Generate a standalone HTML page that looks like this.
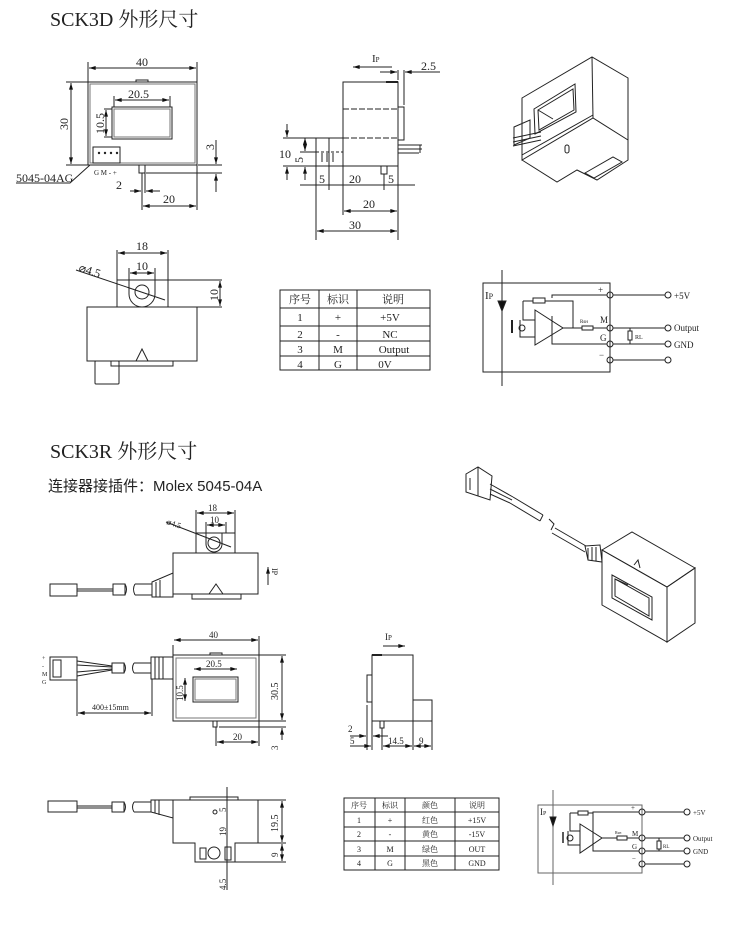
<!DOCTYPE html>
<html><head><meta charset="utf-8"><style>
html,body{margin:0;padding:0;background:#fff;}
svg{display:block;}
text{font-family:"Liberation Serif","Noto Serif CJK SC",serif;fill:#222;}
.s{font-family:"Liberation Sans","Noto Sans CJK SC",sans-serif;}
</style></head><body>
<svg width="750" height="938" viewBox="0 0 750 938" xmlns="http://www.w3.org/2000/svg">
<defs>
<marker id="a" viewBox="0 0 10 6" refX="10" refY="3" markerWidth="8" markerHeight="4" orient="auto-start-reverse"><path d="M0,0L10,3L0,6z" fill="#111"/></marker>
</defs>
<g fill="none" stroke="#222" stroke-width="1">

<!-- ===== Section 1 front view ===== -->
<rect x="88" y="82" width="109" height="83"/>
<rect x="90" y="84" width="105" height="79" stroke="#777"/>
<rect x="136" y="80" width="12" height="2"/>
<rect x="112" y="107" width="60" height="32"/>
<rect x="114" y="109" width="56" height="28" stroke="#777"/>
<rect x="93" y="147" width="27" height="16"/>
<line x1="88" y1="82" x2="88" y2="62"/><line x1="197" y1="82" x2="197" y2="62"/>
<line x1="89" y1="68" x2="196" y2="68" marker-start="url(#a)" marker-end="url(#a)"/>
<line x1="66" y1="82" x2="88" y2="82"/><line x1="66" y1="165" x2="88" y2="165"/>
<line x1="71" y1="83" x2="71" y2="164" marker-start="url(#a)" marker-end="url(#a)"/>
<line x1="114" y1="96" x2="114" y2="107"/><line x1="170" y1="96" x2="170" y2="107"/>
<line x1="115" y1="100" x2="169" y2="100" marker-start="url(#a)" marker-end="url(#a)"/>
<line x1="104" y1="109" x2="112" y2="109"/><line x1="104" y1="137" x2="112" y2="137"/>
<line x1="106" y1="110" x2="106" y2="136" marker-start="url(#a)" marker-end="url(#a)"/>
<rect x="139" y="165" width="6" height="8"/>
<line x1="142" y1="173" x2="142" y2="210"/><line x1="145" y1="173" x2="145" y2="193"/>
<line x1="130" y1="191" x2="141" y2="191" marker-end="url(#a)"/><line x1="160" y1="191" x2="146" y2="191" marker-end="url(#a)"/>
<line x1="197" y1="165" x2="197" y2="210"/>
<line x1="143" y1="206" x2="196" y2="206" marker-start="url(#a)" marker-end="url(#a)"/>
<line x1="198" y1="165" x2="222" y2="165"/><line x1="146" y1="173" x2="222" y2="173"/>
<line x1="216" y1="140" x2="216" y2="164" marker-end="url(#a)"/><line x1="216" y1="192" x2="216" y2="174" marker-end="url(#a)"/>
<polyline points="16,183 70,183 90,165"/>

<!-- ===== Section 1 side view ===== -->
<rect x="343" y="82" width="55" height="84"/>
<line x1="343" y1="109" x2="398" y2="109" stroke-dasharray="6,2"/>
<line x1="343" y1="138" x2="398" y2="138" stroke-dasharray="6,2"/>
<rect x="398" y="107" width="6" height="33"/>
<line x1="386" y1="82" x2="398" y2="82" stroke-width="2"/>
<rect x="316" y="138" width="27" height="28"/>
<line x1="329" y1="138" x2="329" y2="166"/>
<line x1="322" y1="153" x2="322" y2="162"/><line x1="327" y1="153" x2="327" y2="162"/><line x1="333" y1="153" x2="333" y2="162"/>
<line x1="316" y1="152" x2="343" y2="152" stroke-dasharray="3,2"/>
<line x1="398" y1="145" x2="422" y2="145"/><line x1="398" y1="149" x2="422" y2="149"/><line x1="398" y1="153" x2="419" y2="153"/>
<line x1="420" y1="145" x2="420" y2="153"/>
<rect x="381" y="166" width="6" height="8"/>
<line x1="392" y1="67" x2="353" y2="67" marker-end="url(#a)"/>
<line x1="398" y1="70" x2="398" y2="80"/><line x1="404" y1="70" x2="404" y2="105"/>
<line x1="380" y1="72" x2="397" y2="72" marker-end="url(#a)"/><line x1="440" y1="72" x2="405" y2="72" marker-end="url(#a)"/>
<line x1="283" y1="138" x2="316" y2="138"/><line x1="283" y1="166" x2="316" y2="166"/>
<line x1="287" y1="124" x2="287" y2="137" marker-end="url(#a)"/><line x1="287" y1="180" x2="287" y2="167" marker-end="url(#a)"/>
<line x1="300" y1="152" x2="316" y2="152"/>
<line x1="305" y1="138" x2="305" y2="151" marker-start="url(#a)" marker-end="url(#a)"/>
<line x1="305" y1="180" x2="305" y2="167" marker-end="url(#a)"/>
<line x1="316" y1="166" x2="316" y2="240"/><line x1="329" y1="166" x2="329" y2="190"/>
<line x1="343" y1="166" x2="343" y2="215"/><line x1="398" y1="166" x2="398" y2="240"/>
<line x1="384" y1="174" x2="384" y2="190"/>
<line x1="300" y1="185" x2="415" y2="185"/>
<line x1="344" y1="211" x2="397" y2="211" marker-start="url(#a)" marker-end="url(#a)"/>
<line x1="317" y1="231" x2="397" y2="231" marker-start="url(#a)" marker-end="url(#a)"/>

<!-- ===== Section 1 iso ===== -->
<polygon points="522,98 592,57 628,78 628,140 593,118 522,160"/>
<line x1="592" y1="57" x2="593" y2="118"/>
<polyline points="522,160 557,182 577,170 597,180 628,160 628,140"/>
<polyline points="522,160 522,155 593,115"/>
<polygon points="534,109 575,84 576,112 535,134"/>
<polygon points="538,110 573,89 574,110 539,130"/>
<line x1="538" y1="110" x2="553" y2="119"/>
<polygon points="514,127 530,120 530,138 514,145"/>
<line x1="513" y1="138" x2="541" y2="132"/><line x1="513" y1="142" x2="541" y2="136"/><line x1="513" y1="146" x2="541" y2="140"/>
<rect x="565" y="145" width="4" height="8" rx="2"/>
<polygon points="585,173 613,157 622,162 594,178"/>

<!-- ===== Section 1 bottom view ===== -->
<rect x="87" y="307" width="110" height="54"/>
<polygon points="117,280 168,280 168,307 117,307"/>
<path d="M129,280 L129,294 A13,13 0 0 0 155,294 L155,280"/>
<circle cx="142" cy="292" r="7"/>
<polyline points="136,361 142,349 148,361"/>
<rect x="111" y="361" width="62" height="5"/>
<rect x="95" y="361" width="24" height="23" rx="1"/>
<line x1="117" y1="250" x2="117" y2="280"/><line x1="168" y1="250" x2="168" y2="280"/>
<line x1="118" y1="253" x2="167" y2="253" marker-start="url(#a)" marker-end="url(#a)"/>
<line x1="129" y1="268" x2="129" y2="280"/><line x1="155" y1="268" x2="155" y2="280"/>
<line x1="130" y1="273" x2="154" y2="273" marker-start="url(#a)" marker-end="url(#a)"/>
<line x1="76" y1="270" x2="165" y2="300"/>
<line x1="168" y1="280" x2="222" y2="280"/><line x1="197" y1="307" x2="222" y2="307"/>
<line x1="220" y1="281" x2="220" y2="306" marker-start="url(#a)" marker-end="url(#a)"/>

<!-- ===== Table 1 ===== -->
<rect x="280" y="290" width="150" height="80"/>
<line x1="319" y1="290" x2="319" y2="370"/><line x1="357" y1="290" x2="357" y2="370"/>
<line x1="280" y1="308" x2="430" y2="308"/><line x1="280" y1="326" x2="430" y2="326"/>
<line x1="280" y1="341" x2="430" y2="341"/><line x1="280" y1="356" x2="430" y2="356"/>

<!-- ===== Circuit 1 ===== -->
<rect x="483" y="283" width="127" height="89"/>
<line x1="502" y1="270" x2="502" y2="386"/>
<polygon points="498,301 506,301 502,311" fill="#111"/>
<polygon points="535,310 535,345 563,328"/>
<polyline points="523,301 533,301"/><rect x="533" y="298" width="12" height="5"/>
<polyline points="545,301 573,301 573,328"/>
<polyline points="523,301 523,320 535,320"/>
<polyline points="520,320 520,337 535,337"/>
<circle cx="522" cy="328" r="3"/>
<line x1="512" y1="320" x2="512" y2="333" stroke-width="2"/>
<polyline points="563,328 582,328"/><rect x="582" y="326" width="11" height="4"/>
<line x1="593" y1="328" x2="607" y2="328"/>
<polyline points="552,298 552,295 607,295"/>
<polyline points="552,316 552,344 607,344"/>
<circle cx="610" cy="295" r="3"/><circle cx="610" cy="328" r="3"/><circle cx="610" cy="344" r="3"/><circle cx="610" cy="360" r="3"/>
<line x1="613" y1="295" x2="665" y2="295"/><line x1="613" y1="328" x2="665" y2="328"/>
<line x1="613" y1="344" x2="665" y2="344"/><line x1="613" y1="360" x2="665" y2="360"/>
<circle cx="668" cy="295" r="3"/><circle cx="668" cy="328" r="3"/><circle cx="668" cy="344" r="3"/><circle cx="668" cy="360" r="3"/>
<line x1="630" y1="328" x2="630" y2="331"/><rect x="628" y="331" width="4" height="9"/><line x1="630" y1="340" x2="630" y2="344"/>

<!-- ===== Section 2 top drawing ===== -->
<rect x="173" y="553" width="85" height="41"/>
<rect x="196" y="533" width="39" height="20"/>
<path d="M206,533 L206,544 A8,8 0 0 0 222,544 L222,533"/>
<circle cx="214" cy="543" r="6"/>
<polyline points="209,594 216,584 223,594"/>
<rect x="192" y="594" width="49" height="5"/>
<rect x="50" y="584" width="27" height="12"/>
<line x1="77" y1="589" x2="113" y2="589"/><line x1="77" y1="591" x2="113" y2="591"/>
<rect x="113" y="584" width="12" height="11"/>
<path d="M125,584 q3,5 0,11"/><path d="M135,584 q-3,5 0,11"/>
<line x1="135" y1="584" x2="152" y2="584"/><line x1="135" y1="595" x2="152" y2="595"/>
<polygon points="152,582 173,573 173,597 152,597"/>
<line x1="156" y1="582" x2="156" y2="597"/><line x1="160" y1="580" x2="160" y2="597"/>
<line x1="196" y1="510" x2="196" y2="533"/><line x1="235" y1="510" x2="235" y2="533"/>
<line x1="197" y1="513" x2="234" y2="513" marker-start="url(#a)" marker-end="url(#a)"/>
<line x1="206" y1="522" x2="206" y2="533"/><line x1="226" y1="522" x2="226" y2="533"/>
<line x1="207" y1="525" x2="225" y2="525" marker-start="url(#a)" marker-end="url(#a)"/>
<line x1="166" y1="522" x2="231" y2="547"/>
<line x1="268" y1="585" x2="268" y2="567" marker-end="url(#a)"/>

<!-- ===== Section 2 front view ===== -->
<rect x="173" y="655" width="86" height="66"/>
<rect x="176" y="658" width="80" height="60" stroke="#777"/>
<rect x="210" y="653" width="12" height="2"/>
<rect x="193" y="677" width="45" height="25"/>
<rect x="195" y="679" width="41" height="21" stroke="#777"/>
<rect x="50" y="657" width="27" height="23"/>
<rect x="53" y="660" width="8" height="17"/>
<line x1="77" y1="661" x2="112" y2="666"/><line x1="77" y1="665" x2="112" y2="667"/>
<line x1="77" y1="672" x2="112" y2="669"/><line x1="77" y1="676" x2="112" y2="670"/>
<rect x="112" y="663" width="12" height="10"/>
<path d="M124,663 q3,5 0,10"/><path d="M134,663 q-3,5 0,10"/>
<line x1="134" y1="663" x2="151" y2="663"/><line x1="134" y1="673" x2="151" y2="673"/>
<rect x="151" y="657" width="22" height="22"/>
<line x1="155" y1="657" x2="155" y2="679"/><line x1="159" y1="657" x2="159" y2="679"/><line x1="163" y1="657" x2="163" y2="679"/>
<line x1="173" y1="645" x2="173" y2="655"/><line x1="259" y1="636" x2="259" y2="655"/>
<line x1="174" y1="640" x2="258" y2="640" marker-start="url(#a)" marker-end="url(#a)"/>
<line x1="194" y1="669" x2="237" y2="669" marker-start="url(#a)" marker-end="url(#a)"/>
<line x1="185" y1="678" x2="185" y2="701" marker-start="url(#a)" marker-end="url(#a)"/>
<line x1="259" y1="655" x2="286" y2="655"/><line x1="259" y1="721" x2="286" y2="721"/><line x1="219" y1="727" x2="286" y2="727"/>
<line x1="282" y1="656" x2="282" y2="720" marker-start="url(#a)" marker-end="url(#a)"/>
<line x1="282" y1="740" x2="282" y2="728" marker-end="url(#a)"/>
<rect x="213" y="721" width="4" height="6"/>
<line x1="216" y1="727" x2="216" y2="746"/><line x1="259" y1="721" x2="259" y2="746"/>
<line x1="217" y1="742" x2="258" y2="742" marker-start="url(#a)" marker-end="url(#a)"/>
<line x1="77" y1="680" x2="77" y2="716"/><line x1="152" y1="679" x2="152" y2="716"/>
<line x1="78" y1="713" x2="151" y2="713" marker-start="url(#a)" marker-end="url(#a)"/>

<!-- ===== Section 2 side view ===== -->
<rect x="372" y="655" width="41" height="66"/>
<line x1="372" y1="655" x2="382" y2="655" stroke-width="2"/>
<rect x="367" y="675" width="5" height="27"/>
<rect x="413" y="700" width="19" height="21"/>
<rect x="380" y="721" width="4" height="7"/>
<line x1="383" y1="646" x2="405" y2="646" marker-end="url(#a)"/>
<line x1="367" y1="705" x2="367" y2="750"/><line x1="372" y1="721" x2="372" y2="750"/>
<line x1="382" y1="728" x2="382" y2="750"/><line x1="413" y1="721" x2="413" y2="750"/><line x1="432" y1="721" x2="432" y2="750"/>
<line x1="350" y1="736" x2="366" y2="736" marker-end="url(#a)"/><line x1="388" y1="736" x2="373" y2="736" marker-end="url(#a)"/>
<line x1="350" y1="746" x2="371" y2="746" marker-end="url(#a)"/>
<line x1="383" y1="746" x2="412" y2="746" marker-start="url(#a)" marker-end="url(#a)"/>
<line x1="414" y1="746" x2="431" y2="746" marker-start="url(#a)" marker-end="url(#a)"/>

<!-- ===== Section 2 iso ===== -->
<polygon points="602,550 667,587 667,642 602,605"/>
<polygon points="602,550 632,532 695,568 667,587"/>
<polygon points="667,587 695,568 695,623 667,642"/>
<polygon points="612,575 652,597 652,620 612,598"/>
<polygon points="615,579 649,598 649,616 615,596"/>
<line x1="615" y1="579" x2="628" y2="585"/>
<polyline points="634,565 638,560 640,568"/>
<polygon points="585,546 600,545 602,562 588,560"/>
<line x1="588" y1="548" x2="588" y2="560"/><line x1="592" y1="547" x2="592" y2="561"/><line x1="596" y1="547" x2="596" y2="561"/>
<line x1="555" y1="528" x2="586" y2="546"/><line x1="552" y1="533" x2="585" y2="552"/>
<path d="M549,519 l5,5 l-3,6"/><path d="M543,515 l-3,6"/>
<line x1="513" y1="497" x2="543" y2="515"/><line x1="510" y1="503" x2="540" y2="521"/>
<line x1="490" y1="484" x2="513" y2="497"/><line x1="490" y1="489" x2="512" y2="500"/><line x1="490" y1="494" x2="510" y2="503"/>
<polygon points="466,474 478,467 492,476 490,500 466,492"/>
<line x1="478" y1="467" x2="478" y2="496"/>
<line x1="470" y1="478" x2="470" y2="490"/>

<!-- ===== Section 2 bottom drawing ===== -->
<polygon points="173,800 258,800 258,843 235,843 235,862 195,862 195,843 173,843"/>
<rect x="190" y="797" width="48" height="3"/>
<rect x="48" y="801" width="29" height="11"/>
<line x1="77" y1="806" x2="112" y2="806"/><line x1="77" y1="808" x2="112" y2="808"/>
<rect x="112" y="802" width="12" height="10"/>
<path d="M124,802 q3,5 0,10"/><path d="M134,802 q-3,5 0,10"/>
<line x1="134" y1="802" x2="151" y2="802"/><line x1="134" y1="812" x2="151" y2="812"/>
<polygon points="151,800 173,800 173,818 151,812"/>
<line x1="155" y1="800" x2="155" y2="813"/><line x1="159" y1="800" x2="159" y2="815"/>
<rect x="200" y="848" width="6" height="11"/>
<circle cx="214" cy="853" r="6"/>
<rect x="225" y="847" width="6" height="13"/>
<line x1="227" y1="787" x2="227" y2="890"/>
<circle cx="215" cy="812" r="2"/>
<line x1="258" y1="800" x2="286" y2="800"/><line x1="258" y1="843" x2="286" y2="843"/><line x1="235" y1="862" x2="286" y2="862"/>
<line x1="282" y1="801" x2="282" y2="842" marker-start="url(#a)" marker-end="url(#a)"/>
<line x1="282" y1="844" x2="282" y2="861" marker-start="url(#a)" marker-end="url(#a)"/>

<!-- ===== Table 2 ===== -->
<rect x="344" y="798" width="155" height="72"/>
<line x1="375" y1="798" x2="375" y2="870"/><line x1="405" y1="798" x2="405" y2="870"/><line x1="455" y1="798" x2="455" y2="870"/>
<line x1="344" y1="812" x2="499" y2="812"/><line x1="344" y1="827" x2="499" y2="827"/>
<line x1="344" y1="841" x2="499" y2="841"/><line x1="344" y1="856" x2="499" y2="856"/>

<!-- ===== Circuit 2 ===== -->
<rect x="538" y="805" width="104" height="68" stroke="#666"/>
<line x1="553" y1="790" x2="553" y2="885" stroke="#666"/>
<polygon points="550,817 556,817 553,826" fill="#111"/>
<polygon points="580,824 580,853 602,838"/>
<rect x="578" y="811" width="10" height="4"/>
<polyline points="570,813 578,813"/><polyline points="588,813 593,813 593,838"/>
<polyline points="570,813 570,831 580,831"/><polyline points="568,831 568,845 580,845"/>
<circle cx="570" cy="838" r="3"/>
<line x1="563" y1="832" x2="563" y2="843" stroke-width="1.5"/>
<line x1="602" y1="838" x2="617" y2="838"/><rect x="617" y="836" width="10" height="4"/><line x1="627" y1="838" x2="639" y2="838"/>
<polyline points="593,816 593,812 639,812"/><polyline points="593,832 593,851 639,851"/>
<circle cx="642" cy="812" r="3"/><circle cx="642" cy="838" r="3"/><circle cx="642" cy="851" r="3"/><circle cx="642" cy="864" r="3"/>
<line x1="645" y1="812" x2="684" y2="812"/><line x1="645" y1="838" x2="684" y2="838"/>
<line x1="645" y1="851" x2="684" y2="851"/><line x1="645" y1="864" x2="684" y2="864"/>
<circle cx="687" cy="812" r="3"/><circle cx="687" cy="838" r="3"/><circle cx="687" cy="851" r="3"/><circle cx="687" cy="864" r="3"/>
<rect x="657" y="841" width="4" height="8"/>
<line x1="659" y1="838" x2="659" y2="841"/><line x1="659" y1="849" x2="659" y2="851"/>
</g>

<g fill="#222"><circle cx="99" cy="153" r="1.2"/><circle cx="105" cy="153" r="1.2"/><circle cx="111" cy="153" r="1.2"/><circle cx="117" cy="153" r="1.2"/></g>

<!-- ===== TEXT ===== -->
<text x="50" y="26" font-size="20">SCK3D 外形尺寸</text>
<g font-size="12">
<text x="136" y="66">40</text>
<text x="128" y="98">20.5</text>
<text transform="translate(68,130) rotate(-90)">30</text>
<text transform="translate(104,134) rotate(-90)">10.5</text>
<text transform="translate(214,150) rotate(-90)">3</text>
<text x="16" y="182">5045-04AG</text>
<text x="94" y="175" font-size="7">G M - +</text>
<text x="116" y="189">2</text>
<text x="163" y="203">20</text>
<text x="372" y="62" font-size="11">I<tspan font-size="7">P</tspan></text>
<text x="421" y="70">2.5</text>
<text x="279" y="158">10</text>
<text transform="translate(303,163) rotate(-90)">5</text>
<text x="319" y="183">5</text><text x="349" y="183">20</text><text x="388" y="183">5</text>
<text x="363" y="208">20</text>
<text x="349" y="229">30</text>
<text x="136" y="250">18</text>
<text x="136" y="270">10</text>
<text transform="translate(78,271) rotate(18)">⌀4.5</text>
<text transform="translate(218,301) rotate(-90)">10</text>
</g>
<g font-size="11" text-anchor="middle">
<text x="300" y="303">序号</text><text x="338" y="303">标识</text><text x="393" y="303">说明</text>
<text x="300" y="321">1</text><text x="338" y="321">+</text><text x="390" y="321">+5V</text>
<text x="300" y="338">2</text><text x="338" y="338">-</text><text x="390" y="338">NC</text>
<text x="300" y="353">3</text><text x="338" y="353">M</text><text x="394" y="353">Output</text>
<text x="300" y="368">4</text><text x="338" y="368">G</text><text x="385" y="368">0V</text>
</g>
<g font-size="9">
<text x="485" y="299" font-size="11">I<tspan font-size="8">P</tspan></text>
<text x="598" y="293">+</text><text x="600" y="323">M</text><text x="600" y="341">G</text><text x="599" y="358">−</text>
<text x="580" y="323" font-size="5">Rsн</text><text x="635" y="339" font-size="6">RL</text>
<text x="674" y="299">+5V</text><text x="674" y="331">Output</text><text x="674" y="348">GND</text>
</g>

<text x="50" y="458" font-size="20">SCK3R 外形尺寸</text>
<text x="48" y="491" font-size="15" class="s">连接器接插件：Molex 5045-04A</text>
<g font-size="9">
<text x="208" y="511">18</text><text x="210" y="523">10</text>
<text transform="translate(166,524) rotate(18)" font-size="8">⌀4.5</text>
<text transform="translate(272,568) rotate(90)" font-size="8">IP</text>
<text x="209" y="638">40</text>
<text x="206" y="667">20.5</text>
<text transform="translate(183,701) rotate(-90)">10.5</text>
<text transform="translate(278,700) rotate(-90)" font-size="10">30.5</text>
<text transform="translate(278,750) rotate(-90)">3</text>
<text x="233" y="740">20</text>
<text x="92" y="710" font-size="8">400±15mm</text>
<text x="42" y="660" font-size="6">+</text><text x="42" y="668" font-size="6">-</text><text x="42" y="676" font-size="6">M</text><text x="42" y="684" font-size="6">G</text>
<text x="385" y="640">I<tspan font-size="7">P</tspan></text>
<text x="348" y="732">2</text><text x="350" y="744">5</text><text x="388" y="744">14.5</text><text x="419" y="744">9</text>
<text transform="translate(226,812) rotate(-90)">5</text>
<text transform="translate(226,836) rotate(-90)">19</text>
<text transform="translate(226,890) rotate(-90)">4.5</text>
<text transform="translate(278,832) rotate(-90)" font-size="10">19.5</text>
<text transform="translate(278,857) rotate(-90)">9</text>
</g>
<g font-size="8" text-anchor="middle">
<text x="359" y="808">序号</text><text x="390" y="808">标识</text><text x="430" y="808">颜色</text><text x="477" y="808">说明</text>
<text x="359" y="823">1</text><text x="390" y="823">+</text><text x="430" y="823">红色</text><text x="477" y="823">+15V</text>
<text x="359" y="837">2</text><text x="390" y="837">-</text><text x="430" y="837">黄色</text><text x="477" y="837">-15V</text>
<text x="359" y="852">3</text><text x="390" y="852">M</text><text x="430" y="852">绿色</text><text x="477" y="852">OUT</text>
<text x="359" y="866">4</text><text x="390" y="866">G</text><text x="430" y="866">黑色</text><text x="477" y="866">GND</text>
</g>
<g font-size="7">
<text x="540" y="815" font-size="9">I<tspan font-size="6">P</tspan></text>
<text x="631" y="810">+</text><text x="632" y="836">M</text><text x="632" y="849">G</text><text x="632" y="861">−</text>
<text x="615" y="834" font-size="4">Rsн</text><text x="663" y="848" font-size="5">RL</text>
<text x="693" y="815">+5V</text><text x="693" y="841">Output</text><text x="693" y="854">GND</text>
</g>
</svg>
</body></html>
